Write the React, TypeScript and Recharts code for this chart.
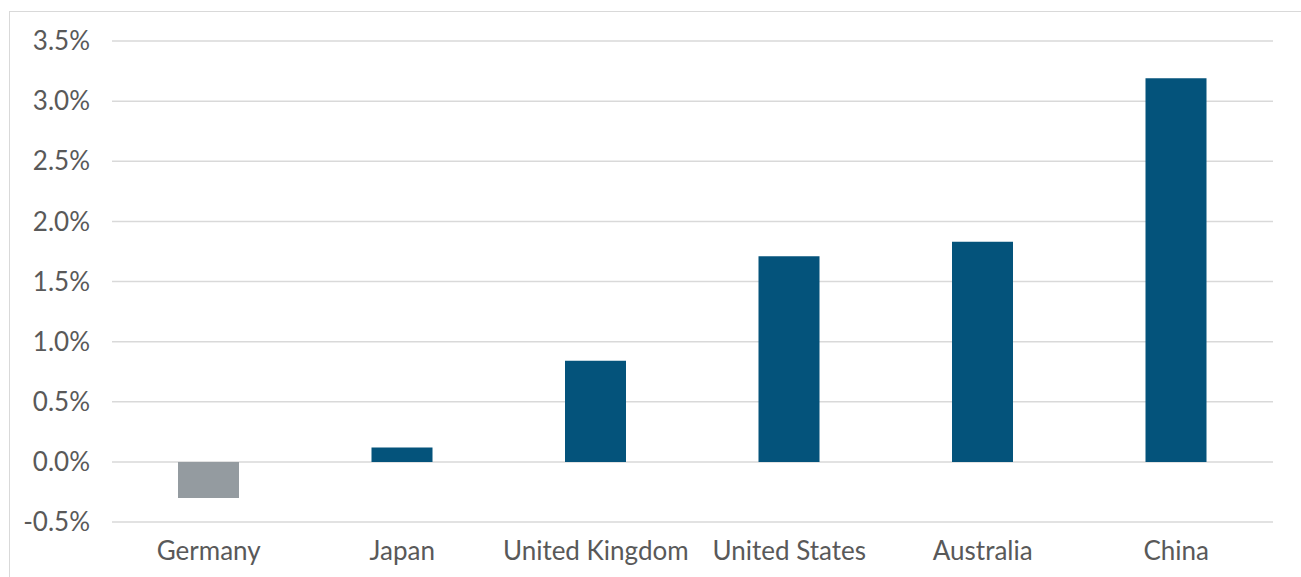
import { BarChart, Bar, XAxis, YAxis, CartesianGrid, Cell } from "recharts";

const countries = [
  "Germany",
  "Japan",
  "United Kingdom",
  "United States",
  "Australia",
  "China",
];
const growth = [-0.3, 0.12, 0.84, 1.71, 1.83, 3.19];
const yTicks = [-0.5, 0, 0.5, 1, 1.5, 2, 2.5, 3, 3.5];

const data = countries.map((country, i) => ({ country, value: growth[i] }));

const BLUE = "#04537b";
const GREY = "#949ba0";
const TEXT = "#595959";

export default function App() {
  return (
    <div
      style={{
        position: "absolute",
        left: 0,
        top: 0,
        width: 1301,
        height: 577,
        background: "#fff",
        overflow: "hidden",
      }}
    >
      <div
        style={{
          position: "absolute",
          left: 9,
          top: 11,
          width: 1300,
          height: 600,
          borderLeft: "1px solid #d9d9d9",
          borderTop: "1px solid #d9d9d9",
        }}
      />
      <div style={{ position: "absolute", left: 0, top: 0 }}>
        <BarChart
          width={1301}
          height={577}
          data={data}
          margin={{ top: 41, right: 28, bottom: 0, left: 0 }}
        >
          <CartesianGrid vertical={false} stroke="#d9d9d9" strokeWidth={1.5} />
          <XAxis
            dataKey="country"
            height={55}
            axisLine={false}
            tickLine={false}
            tickSize={0}
            tickMargin={20}
            interval={0}
            tick={{ fill: TEXT, fontSize: 26, fontFamily: "Lato" }}
          />
          <YAxis
            width={112}
            domain={[-0.5, 3.5]}
            ticks={yTicks}
            axisLine={false}
            tickLine={false}
            tickSize={0}
            tickMargin={22}
            tickFormatter={(v: number) => `${v.toFixed(1)}%`}
            tick={{ fill: TEXT, fontSize: 26, fontFamily: "Lato" }}
          />
          <Bar dataKey="value" barSize={61} isAnimationActive={false}>
            {data.map((d) => (
              <Cell key={d.country} fill={d.value < 0 ? GREY : BLUE} />
            ))}
          </Bar>
        </BarChart>
      </div>
    </div>
  );
}
